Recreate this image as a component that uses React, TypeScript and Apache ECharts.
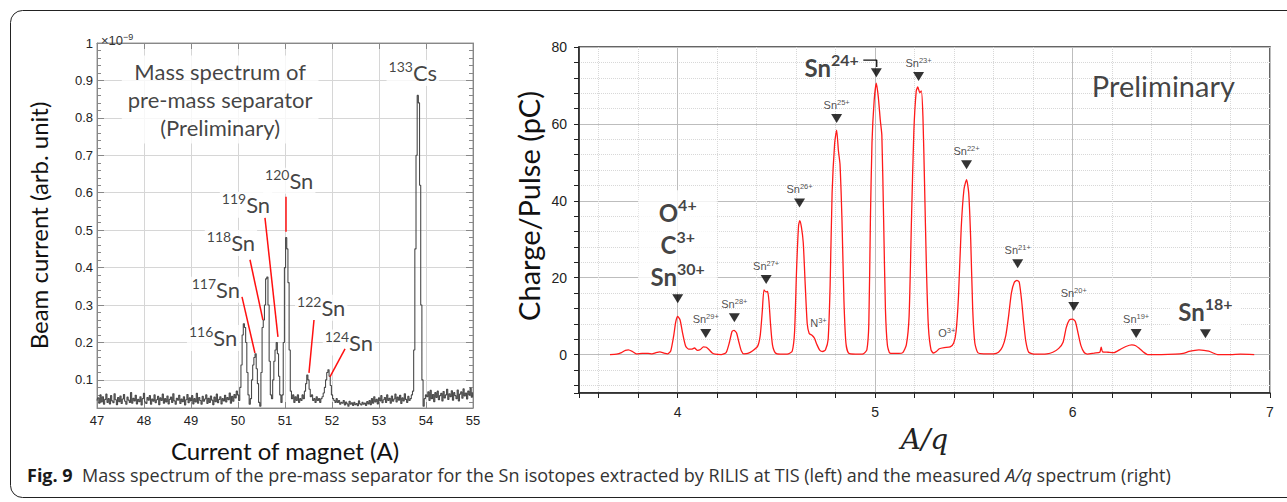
import React, { useEffect, useRef } from 'react';
import * as echarts from 'echarts';

// ---------- Left panel: mass spectrum (beam current ×1e-9 vs magnet current) ----------
const LEFT_X_START = 47;
const LEFT_X_STEP = 0.025;
const LEFT_CURRENT: number[] = [
  // 47.000 – 49.975
  0.045, 0.052, 0.038, 0.060, 0.041, 0.055, 0.035, 0.048, 0.062, 0.040,
  0.050, 0.036, 0.058, 0.044, 0.039, 0.063, 0.047, 0.034, 0.053, 0.042,
  0.057, 0.037, 0.049, 0.061, 0.043, 0.035, 0.054, 0.046, 0.040, 0.066,
  0.038, 0.051, 0.044, 0.059, 0.036, 0.048, 0.042, 0.055, 0.033, 0.050,
  0.064, 0.041, 0.037, 0.053, 0.046, 0.058, 0.035, 0.049, 0.043, 0.060,
  0.039, 0.047, 0.056, 0.034, 0.052, 0.045, 0.062, 0.038, 0.050, 0.041,
  0.057, 0.036, 0.048, 0.054, 0.040, 0.063, 0.044, 0.035, 0.051, 0.046,
  0.059, 0.037, 0.049, 0.042, 0.055, 0.033, 0.047, 0.061, 0.039, 0.052,
  0.044, 0.058, 0.036, 0.050, 0.041, 0.064, 0.038, 0.053, 0.045, 0.035,
  0.056, 0.043, 0.049, 0.060, 0.037, 0.051, 0.040, 0.057, 0.046, 0.034,
  0.054, 0.042, 0.062, 0.039, 0.048, 0.055, 0.036, 0.050, 0.044, 0.059,
  0.041, 0.053, 0.047, 0.065, 0.038, 0.056, 0.043, 0.061, 0.052, 0.070,
  // 50.000 – 52.200 (Sn isotopes)
  0.060, 0.045, 0.080, 0.140, 0.220, 0.250, 0.240, 0.200, 0.120, 0.060,
  0.035, 0.050, 0.100, 0.140, 0.160, 0.170, 0.130, 0.090, 0.040, 0.030,
  0.120, 0.240, 0.260, 0.300, 0.370, 0.375, 0.300, 0.150, 0.060, 0.050,
  0.100, 0.150, 0.180, 0.200, 0.170, 0.110, 0.060, 0.040, 0.060, 0.200,
  0.400, 0.480, 0.450, 0.360, 0.180, 0.070, 0.050, 0.060, 0.040, 0.055,
  0.045, 0.060, 0.040, 0.050, 0.045, 0.060, 0.050, 0.070, 0.090, 0.113,
  0.100, 0.075, 0.055, 0.060, 0.045, 0.050, 0.040, 0.055, 0.045, 0.050,
  0.040, 0.050, 0.055, 0.065, 0.080, 0.100, 0.120, 0.127, 0.110, 0.085,
  0.060, 0.050, 0.045, 0.040, 0.050, 0.040, 0.045, 0.035, 0.040,
  // 52.225 – 53.700
  0.038, 0.045, 0.033, 0.041, 0.036, 0.030, 0.043, 0.035, 0.039, 0.032,
  0.040, 0.034, 0.037, 0.031, 0.044, 0.036, 0.033, 0.040, 0.035, 0.038,
  0.032, 0.042, 0.036, 0.045, 0.034, 0.050, 0.038, 0.055, 0.041, 0.048,
  0.036, 0.052, 0.044, 0.058, 0.039, 0.047, 0.053, 0.040, 0.060, 0.045,
  0.051, 0.038, 0.057, 0.043, 0.049, 0.062, 0.041, 0.054, 0.046, 0.059,
  0.037, 0.052, 0.044, 0.063, 0.048, 0.040, 0.056, 0.045, 0.050, 0.060,
  // 53.725 – 54.000 (133Cs)
  0.070, 0.180, 0.450, 0.700, 0.860, 0.840, 0.620, 0.300, 0.100, 0.030, 0.050, 0.060,
  // 54.025 – 55.000
  0.055, 0.068, 0.045, 0.072, 0.050, 0.061, 0.042, 0.066, 0.053, 0.070,
  0.047, 0.058, 0.064, 0.044, 0.069, 0.052, 0.060, 0.075, 0.048, 0.063,
  0.055, 0.071, 0.046, 0.066, 0.058, 0.050, 0.073, 0.044, 0.062, 0.068,
  0.051, 0.076, 0.057, 0.065, 0.049, 0.070, 0.060, 0.078, 0.054, 0.067,
];

const LEFT_ISOTOPES = [
  { mass: '116', el: 'Sn', x: 49.47, y: 0.212 },
  { mass: '117', el: 'Sn', x: 49.53, y: 0.341 },
  { mass: '118', el: 'Sn', x: 49.85, y: 0.466 },
  { mass: '119', el: 'Sn', x: 50.17, y: 0.568 },
  { mass: '120', el: 'Sn', x: 51.09, y: 0.632 },
  { mass: '122', el: 'Sn', x: 51.77, y: 0.293 },
  { mass: '124', el: 'Sn', x: 52.36, y: 0.2 },
  { mass: '133', el: 'Cs', x: 53.72, y: 0.92 },
];

const LEFT_ARROWS: { from: [number, number]; to: [number, number] }[] = [
  { from: [50.085, 0.322], to: [50.36, 0.172] },
  { from: [50.255, 0.421], to: [50.53, 0.26] },
  { from: [50.574, 0.533], to: [50.85, 0.215] },
  { from: [51.02, 0.589], to: [51.02, 0.496] },
  { from: [51.617, 0.26], to: [51.51, 0.119] },
  { from: [52.277, 0.183], to: [51.957, 0.108] },
];

const LEFT_TITLE = { lines: ['Mass spectrum of', 'pre-mass separator', '(Preliminary)'], x: 49.62, y: 0.849 };

// ---------- Right panel: A/q spectrum ----------
const RIGHT_SPECTRUM: [number, number][] = [
  [3.657, 0], [3.69, 0.1], [3.715, 0.5], [3.735, 1.1], [3.75, 1.2], [3.77, 0.8], [3.79, 0.2], [3.82, 0.3],
  [3.85, 0.3], [3.87, 0.2], [3.89, 0.5], [3.91, 0.7], [3.93, 0.4], [3.95, 0.2], [3.965, 1.0], [3.98, 5.0],
  [3.99, 8.5], [4.0, 9.9], [4.012, 9.0], [4.025, 5.5], [4.04, 2.2], [4.055, 1.4], [4.07, 1.4], [4.085, 1.7],
  [4.1, 1.1], [4.115, 1.3], [4.13, 2.0], [4.145, 1.9], [4.16, 1.2], [4.175, 0.4], [4.19, 0.1], [4.22, 0.0],
  [4.245, 0.5], [4.262, 3.2], [4.275, 6.0], [4.285, 6.3], [4.298, 5.6], [4.31, 3.2], [4.322, 1.0], [4.335, 0.2],
  [4.355, 0.3], [4.38, 1.0], [4.405, 2.2], [4.418, 5.0], [4.428, 11], [4.437, 16.8], [4.447, 16.3], [4.455, 16.4],
  [4.462, 14], [4.47, 8], [4.48, 2.5], [4.495, 0.4], [4.52, 0.1], [4.56, 0.2], [4.58, 0.9], [4.592, 6],
  [4.602, 22], [4.612, 33.5], [4.618, 34.8], [4.627, 33], [4.636, 29], [4.646, 18], [4.656, 8], [4.666, 5.5],
  [4.68, 5.0], [4.692, 4.3], [4.705, 2.6], [4.72, 1.1], [4.735, 0.8], [4.748, 1.2], [4.762, 4], [4.772, 18],
  [4.782, 42], [4.795, 55], [4.805, 58.4], [4.814, 53], [4.822, 49.5], [4.832, 35], [4.842, 14], [4.852, 3],
  [4.865, 0.4], [4.9, 0.1], [4.94, 0.2], [4.958, 1.2], [4.968, 8], [4.976, 35], [4.984, 55], [4.995, 66],
  [5.006, 70.6], [5.016, 67], [5.026, 61], [5.034, 57], [5.043, 35], [5.052, 12], [5.062, 2.5], [5.075, 0.4],
  [5.12, 0.3], [5.14, 0.5], [5.158, 2.5], [5.172, 10], [5.184, 35], [5.196, 58], [5.208, 68.5], [5.216, 69.6],
  [5.226, 68.1], [5.234, 68.6], [5.242, 62], [5.25, 45], [5.26, 22], [5.27, 7], [5.283, 1.2], [5.295, 0.4],
  [5.31, 0.8], [5.325, 1.5], [5.35, 1.8], [5.38, 2.0], [5.398, 3], [5.41, 6], [5.422, 15], [5.436, 33],
  [5.45, 43], [5.463, 45.5], [5.474, 42], [5.484, 30], [5.494, 12], [5.505, 3], [5.52, 0.5], [5.55, 0.2],
  [5.6, 0.2], [5.625, 0.6], [5.645, 2], [5.662, 5], [5.676, 10], [5.69, 16], [5.705, 18.8], [5.718, 19.3],
  [5.73, 18.8], [5.742, 14], [5.752, 8.5], [5.763, 3.5], [5.778, 0.6], [5.81, 0.1], [5.87, 0.2], [5.9, 0.6],
  [5.93, 1.6], [5.952, 3.2], [5.968, 7], [5.984, 9.0], [6.0, 9.2], [6.014, 8.6], [6.028, 5.5], [6.042, 2.4],
  [6.058, 0.6], [6.075, 0.1], [6.11, 0.4], [6.138, 0.6], [6.145, 1.9], [6.152, 0.7], [6.18, 0.6], [6.21, 0.5],
  [6.24, 1.3], [6.27, 2.1], [6.3, 2.5], [6.32, 2.3], [6.34, 1.5], [6.36, 0.6], [6.38, 0.0], [6.45, 0.0],
  [6.52, 0.1], [6.56, 0.3], [6.59, 0.8], [6.62, 1.1], [6.64, 1.2], [6.665, 1.1], [6.69, 0.9], [6.712, 0.4],
  [6.735, 0.0], [6.8, 0.0], [6.85, 0.1], [6.92, 0.0],
];

// ion markers: x = A/q, y = marker height (pC)
const ION_MARKERS = [
  { x: 4.0, y: 14.5, kind: 'stack', text: [['O', '4+'], ['C', '3+'], ['Sn', '30+']] },
  { x: 4.142, y: 5.5, kind: 'small', text: [['Sn', '29+']] },
  { x: 4.287, y: 9.6, kind: 'small', text: [['Sn', '28+']] },
  { x: 4.448, y: 19.5, kind: 'small', text: [['Sn', '27+']] },
  { x: 4.617, y: 39.4, kind: 'small', text: [['Sn', '26+']] },
  { x: 4.805, y: 61.4, kind: 'small', text: [['Sn', '25+']] },
  { x: 5.006, y: 73.3, kind: 'bigLeft', text: [['Sn', '24+']] },
  { x: 5.22, y: 72.3, kind: 'small', text: [['Sn', '23+']] },
  { x: 5.463, y: 49.4, kind: 'small', text: [['Sn', '22+']] },
  { x: 5.722, y: 23.6, kind: 'small', text: [['Sn', '21+']] },
  { x: 6.006, y: 12.5, kind: 'small', text: [['Sn', '20+']] },
  { x: 6.322, y: 5.5, kind: 'small', text: [['Sn', '19+']] },
  { x: 6.673, y: 5.4, kind: 'big', text: [['Sn', '18+']] },
];

const ION_TEXTS = [
  { x: 4.713, y: 8.3, el: 'N', sup: '3+' },
  { x: 5.363, y: 5.7, el: 'O', sup: '3+' },
];

const SN24_BRACKET: [number, number][] = [[4.94, 76.6], [5.008, 76.6], [5.008, 74.8]];
const RIGHT_NOTE = { text: 'Preliminary', x: 6.46, y: 70.1 };

const CAPTION_LABEL = 'Fig. 9';
const CAPTION_PARTS = ['Mass spectrum of the pre-mass separator for the Sn isotopes extracted by RILIS at TIS (left) and the measured ', 'A/q', ' spectrum (right)'];
const RIGHT_Y_TITLE = 'Charge/Pulse (pC)';

const SANS = 'Lato';
const ARIAL = 'Liberation Sans';

function buildOption(): any {
  const leftData = LEFT_CURRENT.map((v, i) => [LEFT_X_START + i * LEFT_X_STEP, v]);

  const smallRich = {
    sn: { fontSize: 11, fontFamily: ARIAL, color: '#222', lineHeight: 13 },
    sp: { fontSize: 7.5, fontFamily: ARIAL, color: '#222', verticalAlign: 'top', lineHeight: 8 },
  };
  const bigRich = {
    B: { fontSize: 24, fontWeight: 'bold', fontFamily: SANS, color: '#111', lineHeight: 32 },
    BS: { fontSize: 16, fontWeight: 'bold', fontFamily: SANS, color: '#111', verticalAlign: 'top', lineHeight: 22 },
  };

  const markerData = ION_MARKERS.map((m) => {
    if (m.kind === 'small') {
      return {
        value: [m.x, m.y],
        label: { show: true, position: 'top', distance: 3, formatter: m.text.map(([a, b]) => `{sn|${a}}{sp|${b}}`).join('\n'), rich: smallRich },
      };
    }
    const fmt = m.text.map(([a, b]) => `{B|${a}}{BS|${b}}`).join('\n');
    if (m.kind === 'bigLeft') {
      return {
        value: [m.x, m.y],
        label: { show: true, position: 'left', distance: 12, offset: [0, -5], formatter: fmt, rich: bigRich },
      };
    }
    return {
      value: [m.x, m.y],
      label: {
        show: true, position: 'top', distance: 2, formatter: fmt, rich: bigRich,
        backgroundColor: '#fff', padding: m.kind === 'stack' ? [6, 12, 0, 12] : [2, 8, 0, 8],
      },
    };
  });

  const gridLineLeft = { color: '#d6d6d6', width: 1 };

  return {
    animation: false,
    backgroundColor: '#fff',
    title: [
      {
        left: 96, top: 27,
        text: '{a|×10}{b|−9}',
        textStyle: {
          fontWeight: 'normal',
          rich: {
            a: { fontSize: 13, fontWeight: 'normal', fontFamily: ARIAL, color: '#333', lineHeight: 16 },
            b: { fontSize: 9, fontWeight: 'normal', fontFamily: ARIAL, color: '#333', verticalAlign: 'top', lineHeight: 10 },
          },
        },
      },
      {
        left: 22, top: 461,
        text: `{b|${CAPTION_LABEL}}{n|  ${CAPTION_PARTS[0]}}{i|${CAPTION_PARTS[1]}}{n|${CAPTION_PARTS[2]}}`,
        textStyle: {
          fontWeight: 'normal',
          rich: {
            b: { fontSize: 18, fontWeight: 'bold', fontFamily: 'Open Sans', color: '#1a1a1a' },
            n: { fontSize: 18, fontWeight: 'normal', fontFamily: 'Open Sans', color: '#333' },
            i: { fontSize: 18, fontWeight: 'normal', fontStyle: 'italic', fontFamily: 'Open Sans', color: '#333' },
          },
        },
      },
    ],
    graphic: [
      { type: 'rect', silent: true, shape: { x: 10.5, y: 10.5, width: 1300, height: 487, r: 12 }, style: { fill: 'none', stroke: '#222', lineWidth: 1 } },
      {
        type: 'text', silent: true, x: 528, y: 206, rotation: Math.PI / 2,
        style: { text: RIGHT_Y_TITLE, fontFamily: SANS, fontSize: 29, fill: '#111', align: 'center', verticalAlign: 'middle' },
      },
    ],
    grid: [
      { left: 97, top: 43, width: 376, height: 365, show: true, borderColor: '#999', borderWidth: 1 },
      { left: 579, top: 47, width: 691, height: 346, show: true, borderColor: '#333', borderWidth: 1.5 },
    ],
    xAxis: [
      {
        type: 'value', gridIndex: 0, min: 47, max: 55, interval: 1,
        axisLine: { show: true, onZero: false, lineStyle: { color: '#888' } },
        axisTick: { show: true, inside: true, length: 6, lineStyle: { color: '#888' } },
        axisLabel: { color: '#222', fontSize: 13, fontFamily: ARIAL, margin: 6 },
        splitLine: { show: true, lineStyle: gridLineLeft },
        name: 'Current of magnet (A)', nameLocation: 'middle', nameGap: 30,
        nameTextStyle: { fontFamily: SANS, fontSize: 24, color: '#111' },
      },
      {
        type: 'value', gridIndex: 0, position: 'top', min: 47, max: 55, interval: 1,
        axisLine: { show: true, onZero: false, lineStyle: { color: '#888' } },
        axisTick: { show: true, inside: true, length: 6, lineStyle: { color: '#888' } },
        axisLabel: { show: false }, splitLine: { show: false },
      },
      {
        type: 'value', gridIndex: 1, min: 3.5, max: 7, splitNumber: 4,
        axisLine: { show: true, onZero: false, lineStyle: { color: '#222', width: 1.5 } },
        axisTick: { show: true, inside: false, length: 5, lineStyle: { color: '#222' } },
        minorTick: { show: true, splitNumber: 5, length: 5, lineStyle: { color: '#222' } },
        axisLabel: {
          color: '#222', fontSize: 14, fontFamily: ARIAL, margin: 12,
          formatter: (v: number) => (Math.abs(v - Math.round(v)) < 1e-6 ? String(Math.round(v)) : ''),
        },
        splitLine: { show: true, lineStyle: { color: '#bdbdbd', width: 1 } },
        minorSplitLine: { show: true, lineStyle: { color: '#d8d8d8', type: 'dotted', width: 1 } },
        name: 'A/q', nameLocation: 'middle', nameGap: 32,
        nameTextStyle: { fontFamily: 'DejaVu Serif', fontStyle: 'italic', fontSize: 28, color: '#222' },
      },
    ],
    yAxis: [
      {
        type: 'value', gridIndex: 0, min: 0.025, max: 1, splitNumber: 10,
        axisLine: { show: true, onZero: false, lineStyle: { color: '#888' } },
        axisTick: { show: true, inside: true, length: 7, lineStyle: { color: '#888' } },
        minorTick: { show: true, splitNumber: 5, length: 4, lineStyle: { color: '#888' } },
        axisLabel: {
          color: '#222', fontSize: 13, fontFamily: ARIAL, margin: 4,
          formatter: (v: number) => (v < 0.05 ? '' : String(Math.round(v * 10) / 10)),
        },
        splitLine: { show: true, lineStyle: gridLineLeft },
        name: 'Beam current (arb. unit)', nameLocation: 'middle', nameGap: 47,
        nameTextStyle: { fontFamily: SANS, fontSize: 24, color: '#111' },
      },
      {
        type: 'value', gridIndex: 0, position: 'right', min: 0.025, max: 1, splitNumber: 10,
        axisLine: { show: true, onZero: false, lineStyle: { color: '#888' } },
        axisTick: { show: true, inside: true, length: 7, lineStyle: { color: '#888' } },
        minorTick: { show: true, splitNumber: 5, length: 4, lineStyle: { color: '#888' } },
        axisLabel: { show: false }, splitLine: { show: false },
      },
      {
        type: 'value', gridIndex: 1, min: -10, max: 80, splitNumber: 5,
        axisLine: { show: true, onZero: false, lineStyle: { color: '#222', width: 1.5 } },
        axisTick: { show: true, inside: false, length: 5, lineStyle: { color: '#222' } },
        minorTick: { show: true, splitNumber: 5, length: 5, lineStyle: { color: '#222' } },
        axisLabel: {
          color: '#222', fontSize: 14, fontFamily: ARIAL, margin: 12,
          formatter: (v: number) => (v < -1 ? '' : String(v)),
        },
        splitLine: { show: true, lineStyle: { color: '#bdbdbd', width: 1 } },
        minorSplitLine: { show: true, lineStyle: { color: '#d8d8d8', type: 'dotted', width: 1 } },
      },
    ],
    series: [
      {
        type: 'line', xAxisIndex: 0, yAxisIndex: 0, data: leftData, step: 'middle', symbol: 'none', silent: true,
        lineStyle: { color: '#4a4a4a', width: 1.1 },
      },
      {
        type: 'scatter', xAxisIndex: 0, yAxisIndex: 0, symbolSize: 1, silent: true,
        itemStyle: { color: 'rgba(0,0,0,0)' },
        label: { show: true, position: 'inside' },
        data: [
          ...LEFT_ISOTOPES.map((d) => ({
            value: [d.x, d.y],
            label: {
              formatter: `{m|${d.mass}}{e|${d.el}}`, backgroundColor: '#fff', padding: [0, 2],
              rich: {
                e: { fontSize: 22, fontFamily: SANS, color: '#111', lineHeight: 26 },
                m: { fontSize: 14, fontFamily: SANS, color: '#111', verticalAlign: 'top', lineHeight: 17 },
              },
            },
          })),
          {
            value: [LEFT_TITLE.x, LEFT_TITLE.y],
            label: {
              formatter: LEFT_TITLE.lines.join('\n'), fontSize: 22, fontFamily: SANS, color: '#111', lineHeight: 28,
              align: 'center', backgroundColor: '#fff', padding: [2, 6],
            },
          },
        ],
        markLine: {
          silent: true, symbol: ['none', 'arrow'], symbolSize: [0, 8], animation: false,
          label: { show: false },
          lineStyle: { color: '#ff1010', width: 1.5, type: 'solid' },
          emphasis: { disabled: true },
          data: LEFT_ARROWS.map((a) => [{ coord: a.from }, { coord: a.to }]),
        },
      },
      {
        type: 'line', xAxisIndex: 2, yAxisIndex: 2, data: RIGHT_SPECTRUM, smooth: 0.2, symbol: 'none', silent: true,
        lineStyle: { color: '#ff1a1a', width: 1.3 },
      },
      {
        type: 'line', xAxisIndex: 2, yAxisIndex: 2, data: SN24_BRACKET, symbol: 'none', silent: true,
        lineStyle: { color: '#111', width: 1.3 },
      },
      {
        type: 'scatter', xAxisIndex: 2, yAxisIndex: 2, silent: true, z: 5,
        symbol: 'triangle', symbolRotate: 180, symbolSize: [11, 9],
        itemStyle: { color: '#000' },
        data: markerData,
      },
      {
        type: 'scatter', xAxisIndex: 2, yAxisIndex: 2, silent: true, symbolSize: 1,
        itemStyle: { color: 'rgba(0,0,0,0)' },
        label: { show: true, position: 'inside' },
        data: [
          ...ION_TEXTS.map((t) => ({
            value: [t.x, t.y],
            label: { formatter: `{sn|${t.el}}{sp|${t.sup}}`, rich: smallRich },
          })),
          {
            value: [RIGHT_NOTE.x, RIGHT_NOTE.y],
            label: { formatter: RIGHT_NOTE.text, fontSize: 29, fontFamily: SANS, color: '#111' },
          },
        ],
      },
    ],
  };
}

export default function App() {
  const ref = useRef<HTMLDivElement>(null);
  useEffect(() => {
    if (!ref.current) return;
    const chart = echarts.init(ref.current, null, { renderer: 'svg' });
    chart.setOption(buildOption());
    return () => chart.dispose();
  }, []);
  return (
    <div
      ref={ref}
      style={{ position: 'absolute', left: 0, top: 0, width: 1287, height: 502, background: '#fff' }}
    />
  );
}
